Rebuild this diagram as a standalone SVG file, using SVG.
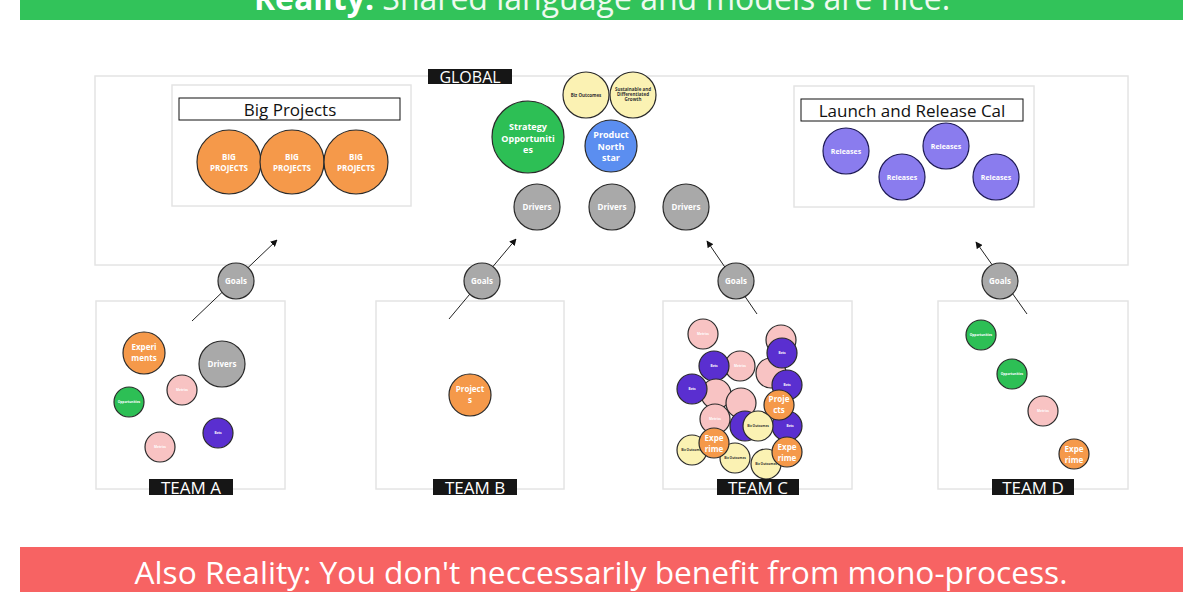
<svg xmlns="http://www.w3.org/2000/svg" width="1200" height="600" viewBox="0 0 1200 600">
<style>
text{font-family:"Open Sans","Liberation Sans",sans-serif;}
.panel{fill:#fff;stroke:#e4e4e4;stroke-width:1.5;}
.title{fill:#fff;stroke:#111;stroke-width:1;}
.tt{font-size:17px;fill:#111;text-anchor:middle;}
.lbl{fill:#161616;}
.lt{font-size:17px;fill:#fff;text-anchor:middle;}
.c{stroke:#2a2a2a;stroke-width:1.2;}
.or{fill:#f5994a;}
.gr{fill:#2dbf55;}
.gy{fill:#a9a9a9;}
.pk{fill:#f8c3c3;}
.pu{fill:#5a2fd0;}
.ye{fill:#fbf2b3;}
.bl{fill:#5b8ef0;}
.rl{fill:#8a7cee;stroke:#1e1a55;stroke-width:1.2;}
.w{fill:#fff;font-weight:bold;text-anchor:middle;}
.s9{font-size:9px;}
.s8{font-size:8px;}
.s7{font-size:7px;}
.tiny{font-size:3.2px;}
.dk{fill:#333;font-weight:bold;text-anchor:middle;}
.ln{stroke:#222;stroke-width:1;fill:none;marker-end:url(#ah);}
</style>
<defs>
<marker id="ah" viewBox="0 0 10 10" refX="9" refY="5" markerWidth="7" markerHeight="7" orient="auto-start-reverse" markerUnits="userSpaceOnUse">
<path d="M0,0 L10,5 L0,10 z" fill="#111"/>
</marker>
</defs>
<rect width="1200" height="600" fill="#fff"/>

<!-- banners -->
<g id="top-banner">
<rect x="20" y="0" width="1163" height="20" fill="#32c35a"/>
<text x="602" y="10" font-size="32" text-anchor="middle" fill="#eefaf0"><tspan font-weight="bold" fill="#fff">Reality:</tspan> Shared language and models are nice.</text>
</g>
<g id="bottom-banner">
<rect x="20" y="547" width="1163" height="45" fill="#f76363"/>
<text x="601" y="584" font-size="31.7" text-anchor="middle" fill="#fff">Also Reality: You don't neccessarily benefit from mono-process.</text>
</g>

<!-- global -->
<g id="global">
<rect class="panel" x="95" y="76" width="1033" height="189"/>
<rect class="lbl" x="428" y="69" width="84" height="15"/>
<text x="470" y="83" font-size="16" fill="#fff" text-anchor="middle">GLOBAL</text>
</g>

<g id="big-projects">
<rect class="panel" x="172" y="85" width="239" height="121"/>
<rect class="title" x="179" y="98" width="221" height="22"/>
<text class="tt" x="290" y="116">Big Projects</text>
<circle class="c or" cx="229" cy="162" r="32"/>
<circle class="c or" cx="292" cy="162" r="32"/>
<circle class="c or" cx="356" cy="162" r="32"/>
<text class="w s8" x="229" y="160">BIG</text><text class="w s8" x="229" y="171">PROJECTS</text>
<text class="w s8" x="292" y="160">BIG</text><text class="w s8" x="292" y="171">PROJECTS</text>
<text class="w s8" x="356" y="160">BIG</text><text class="w s8" x="356" y="171">PROJECTS</text>
</g>

<g id="launch-release">
<rect class="panel" x="794" y="86" width="240" height="121"/>
<rect class="title" x="801" y="99" width="222" height="22"/>
<text class="tt" x="912" y="117">Launch and Release Cal</text>
<circle class="rl" cx="846" cy="151" r="23"/><text class="w s7" x="846" y="154">Releases</text>
<circle class="rl" cx="902" cy="177" r="23"/><text class="w s7" x="902" y="180">Releases</text>
<circle class="rl" cx="946" cy="146" r="23"/><text class="w s7" x="946" y="149">Releases</text>
<circle class="rl" cx="996" cy="177" r="23"/><text class="w s7" x="996" y="180">Releases</text>
</g>

<g id="strategy">
<circle class="c gr" cx="528" cy="137" r="36"/>
<text class="w s9" x="528" y="130">Strategy</text>
<text class="w s9" x="528" y="142">Opportuniti</text>
<text class="w s9" x="528" y="153">es</text>
</g>
<g id="biz-outcomes">
<circle class="c ye" cx="586" cy="95" r="23"/>
<text class="dk" font-size="4.5" x="586" y="97">Biz Outcomes</text>
</g>
<g id="growth">
<circle class="c ye" cx="633" cy="95" r="23"/>
<text class="dk" font-size="4.5" x="633" y="91">Sustainable and</text>
<text class="dk" font-size="4.5" x="633" y="96">Differentiated</text>
<text class="dk" font-size="4.5" x="633" y="101">Growth</text>
</g>
<g id="north-star">
<circle class="c bl" cx="611" cy="146" r="26"/>
<text class="w s9" x="611" y="138">Product</text>
<text class="w s9" x="611" y="150">North</text>
<text class="w s9" x="611" y="161">star</text>
</g>
<g id="drivers-global">
<circle class="c gy" cx="537" cy="207" r="23"/><text class="w s8" x="537" y="210">Drivers</text>
<circle class="c gy" cx="612" cy="207" r="23"/><text class="w s8" x="612" y="210">Drivers</text>
<circle class="c gy" cx="686" cy="207" r="23"/><text class="w s8" x="686" y="210">Drivers</text>
</g>

<!-- team boxes -->
<g id="team-a">
<rect class="panel" x="96" y="301" width="189" height="188"/>
<circle class="c or" cx="144" cy="353" r="21"/>
<text class="w s8" x="144" y="350">Experi</text><text class="w s8" x="144" y="361">ments</text>
<circle class="c gy" cx="222" cy="364" r="23"/><text class="w s8" x="222" y="367">Drivers</text>
<circle class="c pk" cx="182" cy="390" r="15"/><text class="w tiny" x="182" y="391">Metrics</text>
<circle class="c gr" cx="129" cy="402" r="15"/><text class="w tiny" x="129" y="403">Opportunities</text>
<circle class="c pu" cx="218" cy="433" r="15"/><text class="w tiny" x="218" y="434">Bets</text>
<circle class="c pk" cx="160" cy="447" r="15"/><text class="w tiny" x="160" y="448">Metrics</text>
<rect class="lbl" x="149" y="479" width="84" height="16"/>
<text class="lt" x="191" y="494">TEAM A</text>
</g>

<g id="team-b">
<rect class="panel" x="376" y="301" width="188" height="188"/>
<circle class="c or" cx="470" cy="395" r="21"/>
<text class="w s8" x="470" y="392">Project</text><text class="w s8" x="470" y="403">s</text>
<rect class="lbl" x="433" y="479" width="84" height="16"/>
<text class="lt" x="475" y="494">TEAM B</text>
</g>

<g id="team-c">
<rect class="panel" x="663" y="301" width="189" height="188"/>
<circle class="c pk" cx="703" cy="334" r="15"/><text class="w tiny" x="703" y="335">Metrics</text>
<circle class="c pk" cx="781" cy="340" r="15"/>
<circle class="c pk" cx="740" cy="366" r="15"/><text class="w tiny" x="740" y="367">Metrics</text>
<circle class="c pu" cx="714" cy="366" r="15"/><text class="w tiny" x="714" y="367">Bets</text>
<circle class="c pk" cx="771" cy="373" r="15"/>
<circle class="c pu" cx="782" cy="353" r="15"/><text class="w tiny" x="782" y="354">Bets</text>
<circle class="c pk" cx="716" cy="394" r="15"/>
<circle class="c pu" cx="692" cy="389" r="15"/><text class="w tiny" x="692" y="390">Bets</text>
<circle class="c pk" cx="741" cy="403" r="15"/>
<circle class="c pu" cx="787" cy="385" r="15"/><text class="w tiny" x="787" y="386">Bets</text>
<circle class="c pk" cx="715" cy="419" r="15"/><text class="w tiny" x="715" y="420">Metrics</text>
<circle class="c pu" cx="745" cy="426" r="15"/>
<circle class="c pu" cx="787" cy="426" r="15"/><text class="w tiny" x="790" y="427">Bets</text>
<circle class="c or" cx="779" cy="405" r="15"/>
<text class="w s8" x="779" y="402">Proje</text><text class="w s8" x="779" y="413">cts</text>
<circle class="c ye" cx="758" cy="426" r="15"/><text class="dk tiny" x="758" y="427">Biz Outcomes</text>
<circle class="c ye" cx="692" cy="450" r="15"/><text class="dk tiny" x="692" y="451">Biz Outcomes</text>
<circle class="c ye" cx="735" cy="458" r="15"/><text class="dk tiny" x="735" y="459">Biz Outcomes</text>
<circle class="c or" cx="714" cy="443" r="15"/>
<text class="w s8" x="714" y="441">Expe</text><text class="w s8" x="714" y="452">rime</text>
<circle class="c ye" cx="766" cy="464" r="15"/><text class="dk tiny" x="766" y="465">Biz Outcomes</text>
<circle class="c or" cx="787" cy="452" r="15"/>
<text class="w s8" x="787" y="450">Expe</text><text class="w s8" x="787" y="461">rime</text>
<rect class="lbl" x="717" y="479" width="82" height="16"/>
<text class="lt" x="758" y="494">TEAM C</text>
</g>

<g id="team-d">
<rect class="panel" x="938" y="301" width="190" height="188"/>
<circle class="c gr" cx="981" cy="335" r="15"/><text class="w tiny" x="981" y="336">Opportunities</text>
<circle class="c gr" cx="1012" cy="374" r="15"/><text class="w tiny" x="1012" y="375">Opportunities</text>
<circle class="c pk" cx="1043" cy="411" r="15"/><text class="w tiny" x="1043" y="412">Metrics</text>
<circle class="c or" cx="1074" cy="454" r="15"/>
<text class="w s8" x="1074" y="452">Expe</text><text class="w s8" x="1074" y="463">rime</text>
<rect class="lbl" x="992" y="479" width="82" height="16"/>
<text class="lt" x="1033" y="494">TEAM D</text>
</g>

<!-- connectors -->
<g id="connectors">
<line class="ln" x1="192" y1="321" x2="277" y2="240"/>
<line class="ln" x1="449" y1="319" x2="516" y2="239"/>
<line class="ln" x1="757" y1="314" x2="707" y2="241"/>
<line class="ln" x1="1027" y1="314" x2="976" y2="242"/>
</g>

<g id="goals-a"><circle class="c gy" cx="236" cy="281" r="18"/><text class="w s8" x="236" y="284">Goals</text></g>
<g id="goals-b"><circle class="c gy" cx="482" cy="281" r="18"/><text class="w s8" x="482" y="284">Goals</text></g>
<g id="goals-c"><circle class="c gy" cx="736" cy="281" r="18"/><text class="w s8" x="736" y="284">Goals</text></g>
<g id="goals-d"><circle class="c gy" cx="1000" cy="281" r="18"/><text class="w s8" x="1000" y="284">Goals</text></g>
</svg>
